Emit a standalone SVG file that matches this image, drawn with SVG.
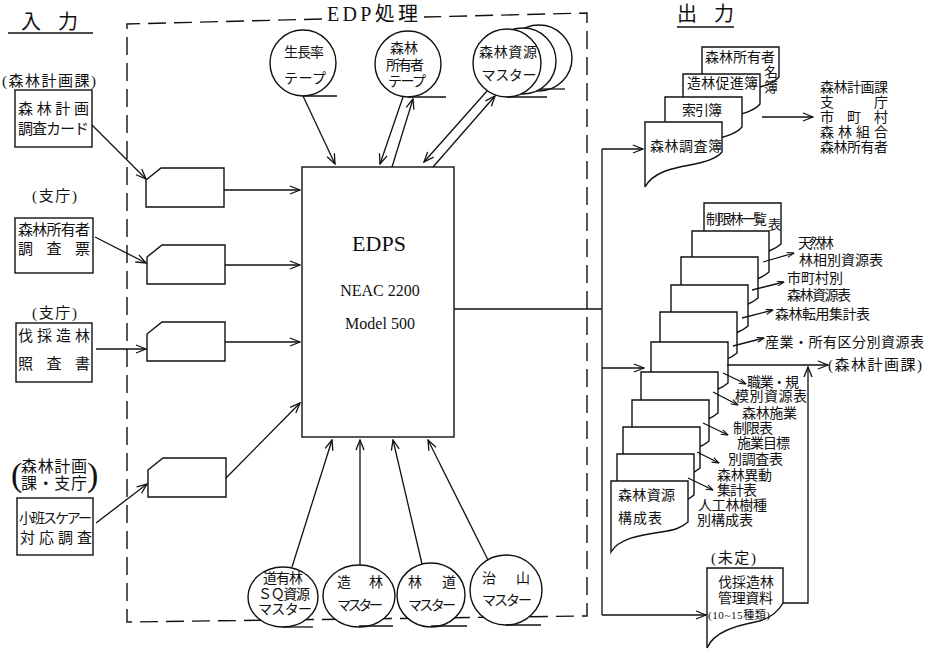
<svg xmlns="http://www.w3.org/2000/svg" width="926" height="649" viewBox="0 0 926 649" font-size="14">
<style>
.t{font-family:'Liberation Serif','Noto Sans CJK JP',serif;fill:#111}
.tm{text-anchor:middle}
.ln{stroke:#111;stroke-width:1.3;fill:none}
.sh{fill:#fff;stroke:#111;stroke-width:1.4}
.dash{stroke:#111;stroke-width:1.4;fill:none;stroke-dasharray:18 8}
</style>
<defs>
<marker id="ah" viewBox="0 0 12 10" refX="11" refY="5" markerWidth="12" markerHeight="10" orient="auto" markerUnits="userSpaceOnUse">
<path d="M1,1 L11,5 L1,9" fill="none" stroke="#111" stroke-width="1.3"/>
</marker>
<marker id="as" viewBox="0 0 8 6" refX="7.5" refY="3" markerWidth="8" markerHeight="6" orient="auto" markerUnits="userSpaceOnUse">
<path d="M0.5,0.5 L7.5,3 L0.5,5.5" fill="none" stroke="#111" stroke-width="1.1"/>
</marker>
<path id="tdoc" d="M0,0 H77 V41 C70,47 64,49 50,51 C30,54 8,57 0,71 Z"/>
<path id="odoc" d="M0,0 H77 V30 C72,36 62,40 45,43 C28,46 8,50 0,65 Z"/>
<path id="card" d="M0,12 L15,0 H78 V39 H0 Z"/>
</defs>
<rect width="926" height="649" fill="#fff"/>

<!-- section titles -->
<g id="title-input">
<text class="t" x="21" y="29" font-size="20" textLength="57">入　力</text>
<line class="ln" x1="8" y1="33" x2="93" y2="33"/>
</g>
<g id="title-output">
<text class="t" x="677" y="21" font-size="20" textLength="57">出　力</text>
<line class="ln" x1="677" y1="27" x2="734" y2="27"/>
</g>

<!-- EDP processing boundary -->
<g id="edp-boundary">
<path class="dash" d="M322,19 L127,24 V622 L587,616 V13 L424,17"/>
<text class="t" x="327" y="21" font-size="20" textLength="91">EDP処理</text>
</g>

<!-- input documents -->
<g id="in-1">
<text class="t" x="2" y="86" font-size="15" textLength="94">(森林計画課)</text>
<rect class="sh" x="15" y="90" width="77" height="57"/>
<text class="t" x="18" y="113.5" font-size="15" textLength="71">森 林 計 画</text>
<text class="t" x="18" y="134" font-size="15" textLength="71">調査カード</text>
</g>
<g id="in-2">
<text class="t" x="32" y="200.5" font-size="15" textLength="45">(支庁)</text>
<rect class="sh" x="15" y="218" width="78" height="55"/>
<text class="t" x="18" y="234.5" font-size="15" textLength="72">森林所有者</text>
<text class="t" x="18" y="253.5" font-size="15" textLength="72">調　査　票</text>
</g>
<g id="in-3">
<text class="t" x="32" y="317.5" font-size="15" textLength="45">(支庁)</text>
<rect class="sh" x="16" y="323" width="76" height="59"/>
<text class="t" x="18" y="340.5" font-size="15" textLength="72">伐採造林</text>
<text class="t" x="18" y="368.5" font-size="15" textLength="72">照　査　書</text>
</g>
<g id="in-4">
<text class="t" x="11" y="486" font-size="34" font-weight="300">(</text>
<text class="t" x="87" y="486" font-size="34" font-weight="300">)</text>
<text class="t" x="21" y="472" font-size="16" textLength="66">森林計画</text>
<text class="t" x="21" y="489" font-size="16" textLength="66">課・支庁</text>
<rect class="sh" x="17" y="498" width="76" height="57"/>
<text class="t" x="19" y="522.5" font-size="14" textLength="73">小班スケアー</text>
<text class="t" x="20" y="542.5" font-size="15" textLength="72">対応調査</text>
</g>

<!-- punched cards -->
<g id="card-1"><use href="#card" class="sh" x="146" y="168"/></g>
<g id="card-2"><use href="#card" class="sh" x="147" y="245"/></g>
<g id="card-3"><use href="#card" class="sh" x="147" y="322"/></g>
<g id="card-4"><use href="#card" class="sh" x="148" y="458"/></g>

<!-- EDPS -->
<g id="edps">
<rect class="sh" x="302" y="167" width="152" height="270"/>
<text class="t tm" x="379" y="251" font-size="22">EDPS</text>
<text class="t tm" x="380" y="296" font-size="16">NEAC 2200</text>
<text class="t tm" x="380" y="329" font-size="16">Model 500</text>
</g>

<!-- top tapes -->
<g id="tape-growth">
<circle class="sh" cx="303" cy="63" r="33"/>
<line class="ln" x1="303" y1="96" x2="337" y2="96"/>
<text class="t tm" x="304" y="57" textLength="40">生長率</text>
<text class="t tm" x="305" y="83" textLength="42">テープ</text>
</g>
<g id="tape-owner">
<circle class="sh" cx="408" cy="64" r="33"/>
<line class="ln" x1="408" y1="97" x2="446" y2="97"/>
<text class="t tm" x="404" y="53">森林</text>
<text class="t tm" x="405" y="70" textLength="38">所有者</text>
<text class="t tm" x="407" y="86" textLength="38">テープ</text>
</g>
<g id="master-resource">
<circle class="sh" cx="539" cy="58" r="33"/>
<circle class="sh" cx="523" cy="61" r="33"/>
<line class="ln" x1="540" y1="89" x2="565" y2="89"/>
<circle class="sh" cx="507" cy="63" r="34"/>
<line class="ln" x1="507" y1="97" x2="547" y2="97"/>
<text class="t tm" x="508" y="57" textLength="58">森林資源</text>
<text class="t tm" x="509" y="80" textLength="55">マスター</text>
</g>

<!-- bottom masters -->
<g id="master-sq">
<ellipse class="sh" cx="283" cy="597" rx="35" ry="30"/>
<line class="ln" x1="283" y1="627" x2="313" y2="627"/>
<text class="t tm" x="283" y="583" textLength="40">道有林</text>
<text class="t tm" x="284" y="599" textLength="52">ＳＱ資源</text>
<text class="t tm" x="285" y="614" textLength="54">マスター</text>
</g>
<g id="master-zorin">
<ellipse class="sh" cx="359" cy="596" rx="36" ry="31"/>
<line class="ln" x1="359" y1="626" x2="393" y2="626"/>
<text class="t tm" x="360" y="587" textLength="46">造　林</text>
<text class="t tm" x="360" y="610" textLength="46">マスター</text>
</g>
<g id="master-rindo">
<ellipse class="sh" cx="431" cy="595" rx="34" ry="32"/>
<line class="ln" x1="431" y1="626" x2="467" y2="626"/>
<text class="t tm" x="432" y="587" textLength="48">林　道</text>
<text class="t tm" x="432" y="610" textLength="48">マスター</text>
</g>
<g id="master-chisan">
<ellipse class="sh" cx="506" cy="590" rx="36" ry="35"/>
<line class="ln" x1="506" y1="625" x2="541" y2="625"/>
<text class="t tm" x="506" y="583" textLength="48">治　山</text>
<text class="t tm" x="507" y="605" textLength="50">マスター</text>
</g>

<!-- output top documents -->
<g id="out-books">
<use href="#odoc" class="sh" x="702" y="47"/>
<use href="#odoc" class="sh" x="683" y="74"/>
<use href="#odoc" class="sh" x="665" y="97"/>
<use href="#odoc" class="sh" x="645" y="122"/>
<text class="t" x="705" y="62" textLength="70">森林所有者</text>
<text class="t" x="764" y="77">名</text>
<text class="t" x="764" y="92">簿</text>
<text class="t" x="687" y="88" textLength="71">造林促進簿</text>
<text class="t" x="682" y="115" textLength="40">索引簿</text>
<text class="t" x="650" y="151" textLength="72">森林調査簿</text>
</g>
<g id="out-recipients">
<text class="t" x="820" y="92" textLength="68">森林計画課</text>
<text class="t" x="820" y="107" textLength="68">支　　　庁</text>
<text class="t" x="820" y="122" textLength="68">市　町　村</text>
<text class="t" x="820" y="137" textLength="68">森 林 組 合</text>
<text class="t" x="820" y="152" textLength="68">森林所有者</text>
</g>

<!-- output table stack -->
<g id="out-tables">
<use href="#tdoc" class="sh" x="704" y="203"/>
<use href="#tdoc" class="sh" x="692" y="231"/>
<use href="#tdoc" class="sh" x="681" y="257"/>
<use href="#tdoc" class="sh" x="671" y="285"/>
<use href="#tdoc" class="sh" x="660" y="312"/>
<use href="#tdoc" class="sh" x="651" y="342"/>
<use href="#tdoc" class="sh" x="641" y="372"/>
<use href="#tdoc" class="sh" x="632" y="400"/>
<use href="#tdoc" class="sh" x="623" y="427"/>
<use href="#tdoc" class="sh" x="617" y="454"/>
<use href="#tdoc" class="sh" x="611" y="481"/>
<text class="t" x="706" y="224" textLength="61">制限林一覧</text>
<text class="t" x="768" y="229" font-size="13">表</text>
<text class="t" x="618" y="500" textLength="57">森林資源</text>
<text class="t" x="618" y="523" textLength="44">構成表</text>
</g>
<g id="out-table-labels">
<text class="t" x="798" y="248" textLength="36">天然林</text>
<text class="t" x="799" y="265" textLength="84">林相別資源表</text>
<text class="t" x="787" y="283" textLength="56">市町村別</text>
<text class="t" x="787" y="300" textLength="64">森林資源表</text>
<text class="t" x="775" y="319" textLength="95">森林転用集計表</text>
<text class="t" x="765" y="347" textLength="159">産業・所有区分別資源表</text>
<text class="t" x="747" y="387" textLength="52">職業・規</text>
<text class="t" x="735" y="401" textLength="72">模別資源表</text>
<text class="t" x="742" y="418" textLength="55">森林施業</text>
<text class="t" x="733" y="433" textLength="40">制限表</text>
<text class="t" x="737" y="448" textLength="53">施業目標</text>
<text class="t" x="728" y="464" textLength="55">別調査表</text>
<text class="t" x="717" y="480" textLength="55">森林異動</text>
<text class="t" x="717" y="495" textLength="40">集計表</text>
<text class="t" x="698" y="510" textLength="69">人工林樹種</text>
<text class="t" x="697" y="525" textLength="56">別構成表</text>
</g>
<g id="out-planning">
<text class="t" x="828" y="370" font-size="15" textLength="94">(森林計画課)</text>
</g>
<g id="out-undecided">
<text class="t" x="711" y="563" font-size="15" textLength="45">(未定)</text>
<path class="sh" d="M707,568 H783 V603 C778,612 770,619 755,622 C735,626 714,632 707,648 Z"/>
<text class="t" x="718" y="587" textLength="56">伐採造林</text>
<text class="t" x="718" y="603" textLength="55">管理資料</text>
<text class="t" x="708" y="619" font-size="11" textLength="62">(10~15種類)</text>
</g>

<!-- connectors -->
<g id="connectors">
<path class="ln" marker-end="url(#ah)" d="M92,125 L146,179"/>
<path class="ln" marker-end="url(#ah)" d="M95,237 L146,263"/>
<path class="ln" marker-end="url(#ah)" d="M96,349 L146,349"/>
<path class="ln" marker-end="url(#ah)" d="M96,523 L147,484"/>
<path class="ln" marker-end="url(#ah)" d="M224,190 L300,190"/>
<path class="ln" marker-end="url(#ah)" d="M225,265 L300,265"/>
<path class="ln" marker-end="url(#ah)" d="M225,342 L300,342"/>
<path class="ln" marker-end="url(#ah)" d="M226,478 L300,403"/>
<path class="ln" marker-end="url(#ah)" d="M303,96 L335,164"/>
<path class="ln" marker-end="url(#ah)" d="M403,97 L380,164"/>
<path class="ln" marker-end="url(#ah)" d="M392,167 L413,99"/>
<path class="ln" marker-end="url(#ah)" d="M487,91 L424,162"/>
<path class="ln" marker-end="url(#ah)" d="M433,167 L495,96"/>
<path class="ln" marker-end="url(#ah)" d="M292,567 L332,440"/>
<path class="ln" marker-end="url(#ah)" d="M360,565 L360,440"/>
<path class="ln" marker-end="url(#ah)" d="M422,564 L393,440"/>
<path class="ln" marker-end="url(#ah)" d="M488,560 L428,440"/>
<path class="ln" d="M454,309 H602 M602,149 V615"/>
<path class="ln" marker-end="url(#ah)" d="M602,149 H643"/>
<path class="ln" marker-end="url(#ah)" d="M602,368 H644"/>
<path class="ln" marker-end="url(#ah)" d="M602,615 H706"/>
<path class="ln" marker-end="url(#ah)" d="M762,117 H813"/>
<path class="ln" marker-end="url(#ah)" d="M727,365 H828"/>
<path class="ln" marker-end="url(#ah)" d="M783,603 H808 V367"/>
<path class="ln" marker-end="url(#as)" d="M763,262 L794,253"/>
<path class="ln" marker-end="url(#as)" d="M752,290 L784,282"/>
<path class="ln" marker-end="url(#as)" d="M742,318 L773,310"/>
<path class="ln" marker-end="url(#as)" d="M733,346 L764,338"/>
<path class="ln" marker-end="url(#as)" d="M723,373 L746,384"/>
<path class="ln" marker-end="url(#as)" d="M713,392 L738,405"/>
<path class="ln" marker-end="url(#as)" d="M703,423 L728,435"/>
<path class="ln" marker-end="url(#as)" d="M697,452 L719,463"/>
<path class="ln" marker-end="url(#as)" d="M688,478 L713,490"/>
</g>
</svg>
